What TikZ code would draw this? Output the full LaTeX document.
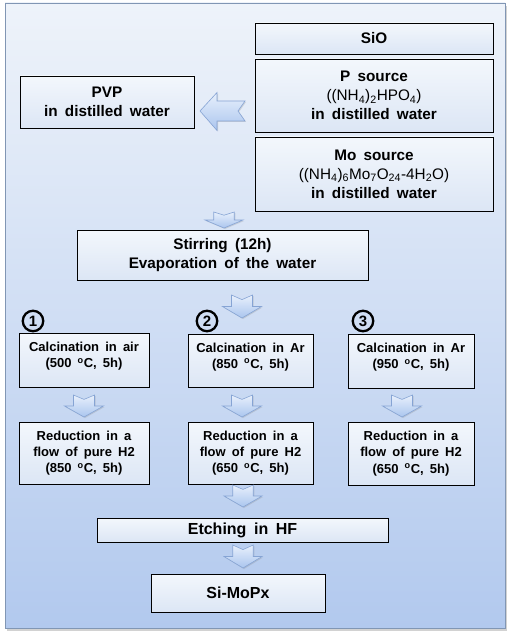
\documentclass[tikz,border=0pt]{standalone}
\usepackage{fontspec}
\setmainfont{Liberation Sans}[WordSpace=1.7]
\usetikzlibrary{shadows}
\definecolor{paneltop}{HTML}{EEF3FA}
\definecolor{panelbot}{HTML}{B2C9EE}
\definecolor{panelline}{HTML}{8196B4}
\definecolor{boxtop}{HTML}{F3F7FC}
\definecolor{boxbot}{HTML}{DCE6F5}
\definecolor{arrtop}{HTML}{E8F0FC}
\definecolor{arrbot}{HTML}{AAC5EE}
\definecolor{arrline}{HTML}{86A4D4}
\newcommand\dnarrow[4]{% cx, ytop, width, height
  \path[barrow] (#1-0.27*#3,#2) -- (#1,#2+0.2*#4) -- (#1+0.27*#3,#2)
    -- (#1+0.27*#3,#2+0.5*#4) -- (#1+0.5*#3,#2+0.5*#4) -- (#1,#2+#4)
    -- (#1-0.5*#3,#2+0.5*#4) -- (#1-0.27*#3,#2+0.5*#4) -- cycle;}
\begin{document}
\begin{tikzpicture}[x=1pt,y=-1pt,
  bigbox/.style={draw=black, line width=0.8pt, top color=boxtop, bottom color=boxbot,
    align=center, inner sep=2pt, font=\bfseries\fontsize{15.3}{19}\selectfont},
  smallbox/.style={draw=black, line width=0.8pt, top color=boxtop, bottom color=boxbot,
    align=center, inner sep=2pt, font=\bfseries\fontsize{13}{16.2}\selectfont},
  barrow/.style={draw=arrline, line width=0.6pt, top color=arrtop, bottom color=arrbot,
    drop shadow={shadow xshift=1pt, shadow yshift=-1pt, opacity=0.25}},
  numc/.style={draw=black, circle, line width=2.3pt, minimum size=20.5pt, inner sep=0pt,
    font=\bfseries\fontsize{15}{15}\selectfont}
]
\useasboundingbox (0,0) rectangle (510,636);
% panel
\fill[black!35, opacity=0.5] (7,6) rectangle (507,631);
\path[draw=panelline, line width=0.8pt, top color=paneltop, bottom color=panelbot]
  (5,3) rectangle (505,628);

% top boxes
\node[bigbox, minimum width=238pt, minimum height=31pt] (sio) at (374,38.5) {SiO};
\node[bigbox, minimum width=238pt, minimum height=73pt] (psrc) at (374,95.5)
  {P source\\{\mdseries ((NH\textsubscript{4})\textsubscript{2}HPO\textsubscript{4})}\\in distilled water};
\node[bigbox, minimum width=238pt, minimum height=74pt] (mosrc) at (374,174)
  {Mo source\\{\mdseries ((NH\textsubscript{4})\textsubscript{6}Mo\textsubscript{7}O\textsubscript{24}-4H\textsubscript{2}O)}\\in distilled water};
\node[bigbox, minimum width=174pt, minimum height=52pt] (pvp) at (107,102)
  {PVP\\in distilled water};

% left arrow
\path[barrow] (245,101) -- (238,111) -- (245,121) -- (217,121) -- (217,130.5)
  -- (200,111) -- (217,92.5) -- (217,101) -- cycle;

\dnarrow{224}{212}{38}{16}

\node[bigbox, minimum width=291pt, minimum height=50pt] (stir) at (222.5,255)
  {Stirring (12h)\\Evaporation of the water};

\dnarrow{242}{295}{39}{23}

% circled numbers
\node[numc] (n1) at (33,321) {1};
\node[numc] (n2) at (207,321) {2};
\node[numc] (n3) at (363,321) {3};

% calcination boxes
\node[smallbox, minimum width=130pt, minimum height=54pt] (c1) at (84,360)
  {Calcination in air\\(500 \textsuperscript{o}C, 5h)\\[-6pt]};
\node[smallbox, minimum width=125pt, minimum height=53pt] (c2) at (250.5,360.5)
  {Calcination in Ar\\(850 \textsuperscript{o}C, 5h)\\[-6pt]};
\node[smallbox, minimum width=126pt, minimum height=54pt] (c3) at (411,361)
  {Calcination in Ar\\(950 \textsuperscript{o}C, 5h)\\[-6pt]};

\dnarrow{84}{395}{39}{22}
\dnarrow{242}{395}{39}{22}
\dnarrow{402}{395}{39}{22}

% reduction boxes
\node[smallbox, minimum width=130pt, minimum height=62pt] (r1) at (84,453)
  {Reduction in a\\flow of pure H2\\(850 \textsuperscript{o}C, 5h)};
\node[smallbox, minimum width=125pt, minimum height=62pt] (r2) at (250.5,453)
  {Reduction in a\\flow of pure H2\\(650 \textsuperscript{o}C, 5h)};
\node[smallbox, minimum width=126pt, minimum height=63pt] (r3) at (411,453.5)
  {Reduction in a\\flow of pure H2\\(650 \textsuperscript{o}C, 5h)};

\dnarrow{243}{485}{38}{22}

\node[bigbox, minimum width=291pt, minimum height=24pt, font=\bfseries\fontsize{16}{18}\selectfont] (etch) at (242.5,530) {Etching in HF};

\dnarrow{243}{545}{38}{23}

\node[bigbox, minimum width=174pt, minimum height=38pt, font=\bfseries\fontsize{16}{18}\selectfont] (simo) at (238,593) {Si-MoPx};
\end{tikzpicture}
\end{document}
